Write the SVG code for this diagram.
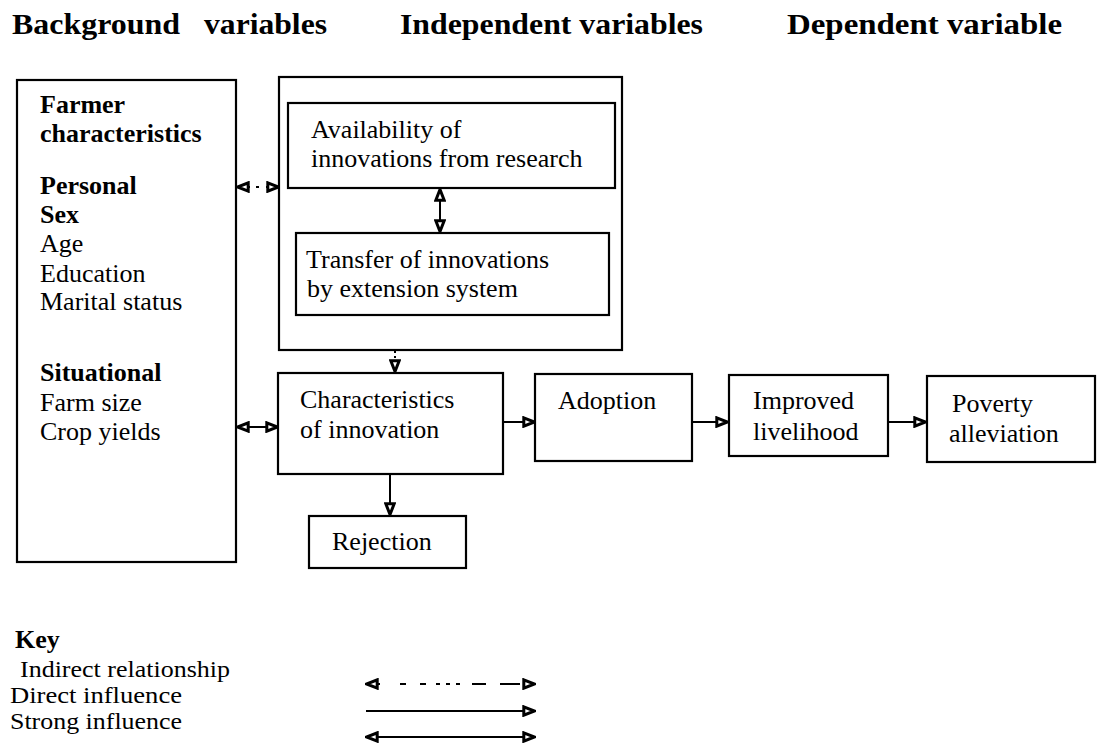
<svg xmlns="http://www.w3.org/2000/svg" width="1099" height="745" viewBox="0 0 1099 745">
<style>
text{font-family:"Liberation Serif","Times New Roman",serif;font-size:26px;fill:#000}
.b{font-weight:bold}
.h{font-weight:bold;font-size:30px}
.k{font-size:23px}
.box{fill:#fff;stroke:#000;stroke-width:2.2}
.c{fill:none;stroke:#000;stroke-width:2}
</style>
<defs>
<marker id="ah" viewBox="0 0 14 12" refX="13" refY="6" markerWidth="14" markerHeight="12" markerUnits="userSpaceOnUse" orient="auto-start-reverse">
<path d="M1.8,1.8 L12.5,6 L1.8,10.2 Z" fill="#fff" stroke="#000" stroke-width="3"/>
</marker>
</defs>
<rect width="1099" height="745" fill="#fff"/>
<g id="headers">
<text class="h" x="12" y="34" textLength="168" lengthAdjust="spacingAndGlyphs">Background</text>
<text class="h" x="204" y="34" textLength="123" lengthAdjust="spacingAndGlyphs">variables</text>
<text class="h" x="400" y="34" textLength="303" lengthAdjust="spacingAndGlyphs">Independent variables</text>
<text class="h" x="787" y="34" textLength="275" lengthAdjust="spacingAndGlyphs">Dependent variable</text>
</g>
<g id="farmer">
<rect class="box" x="17" y="80" width="219" height="482"/>
<text class="b" x="40" y="113">Farmer</text>
<text class="b" x="40" y="142">characteristics</text>
<text class="b" x="40" y="194">Personal</text>
<text class="b" x="40" y="223">Sex</text>
<text x="40" y="252">Age</text>
<text x="40" y="282">Education</text>
<text x="40" y="310">Marital status</text>
<text class="b" x="40" y="381">Situational</text>
<text x="40" y="411">Farm size</text>
<text x="40" y="440">Crop yields</text>
</g>
<g id="independent">
<rect class="box" x="279" y="77" width="343" height="273"/>
</g>
<g id="availability">
<rect class="box" x="288" y="103" width="327" height="85"/>
<text x="311" y="138">Availability of</text>
<text x="311" y="167">innovations from research</text>
</g>
<g id="transfer">
<rect class="box" x="296" y="233" width="313" height="82"/>
<text x="306" y="268">Transfer of innovations</text>
<text x="307" y="297">by extension system</text>
</g>
<g id="characteristics">
<rect class="box" x="278" y="373" width="225" height="101"/>
<text x="300" y="408">Characteristics</text>
<text x="300" y="438">of innovation</text>
</g>
<g id="rejection">
<rect class="box" x="309" y="516" width="157" height="52"/>
<text x="332" y="550">Rejection</text>
</g>
<g id="adoption">
<rect class="box" x="535" y="374" width="157" height="87"/>
<text x="558" y="409">Adoption</text>
</g>
<g id="livelihood">
<rect class="box" x="729" y="375" width="159" height="81"/>
<text x="753" y="409">Improved</text>
<text x="753" y="440">livelihood</text>
</g>
<g id="poverty">
<rect class="box" x="927" y="376" width="168" height="86"/>
<text x="952" y="412">Poverty</text>
<text x="949" y="442">alleviation</text>
</g>
<g id="connectors">
<line class="c" x1="237" y1="187" x2="279" y2="187" stroke-dasharray="13 6 3 7 13" marker-start="url(#ah)" marker-end="url(#ah)"/>
<line class="c" x1="237" y1="427" x2="278" y2="427" marker-start="url(#ah)" marker-end="url(#ah)"/>
<line class="c" x1="440" y1="189" x2="440" y2="232" marker-start="url(#ah)" marker-end="url(#ah)"/>
<line class="c" x1="395" y1="351" x2="395" y2="372" stroke-dasharray="2 3" marker-end="url(#ah)"/>
<line class="c" x1="390" y1="475" x2="390" y2="515" marker-end="url(#ah)"/>
<line class="c" x1="504" y1="422" x2="535" y2="422" marker-end="url(#ah)"/>
<line class="c" x1="693" y1="422" x2="728" y2="422" marker-end="url(#ah)"/>
<line class="c" x1="889" y1="422" x2="926" y2="422" marker-end="url(#ah)"/>
</g>
<g id="key">
<text class="b" x="15" y="648">Key</text>
<text class="k" x="20" y="677" textLength="210" lengthAdjust="spacingAndGlyphs">Indirect relationship</text>
<text class="k" x="10" y="703" textLength="172" lengthAdjust="spacingAndGlyphs">Direct influence</text>
<text class="k" x="10" y="729" textLength="172" lengthAdjust="spacingAndGlyphs">Strong influence</text>
<line class="c" x1="366" y1="684" x2="535" y2="684" stroke-dasharray="14 20 6 14 6 10 4 6 4 6 4 12 14" marker-start="url(#ah)" marker-end="url(#ah)"/>
<line class="c" x1="366" y1="711" x2="535" y2="711" marker-end="url(#ah)"/>
<line class="c" x1="366" y1="737" x2="535" y2="737" marker-start="url(#ah)" marker-end="url(#ah)"/>
</g>
</svg>
